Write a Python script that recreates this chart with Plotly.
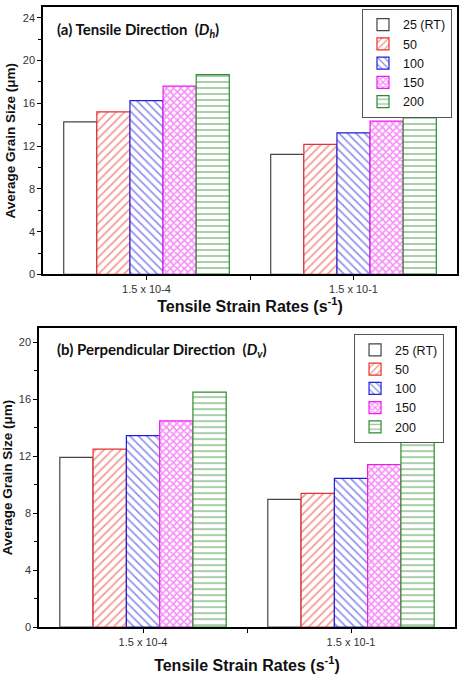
import plotly.graph_objects as go

categories = ["1.5 x 10-4", "1.5 x 10-1"]
temps = ["25 (RT)", "50", "100", "150", "200"]
tensile_dh = [
    [14.26, 11.23],
    [15.2, 12.16],
    [16.25, 13.24],
    [17.6, 14.33],
    [18.67, 15.32],
]
perp_dv = [
    [11.92, 8.97],
    [12.5, 9.39],
    [13.45, 10.45],
    [14.48, 11.41],
    [16.5, 13.08],
]

line_colors = ["#444444", "#e8312f", "#1f1fdc", "#ee1cee", "#2e8b2e"]
shapes_pat = ["", "/", "\\", "x", "-"]
pat_size = [6, 6, 6, 5, 6]
pat_sol = [0.2, 0.28, 0.28, 0.55, 0.28]

fig = go.Figure()
xpos = [0, 1]

for panel, (data, xa, ya, lg) in enumerate([
    (tensile_dh, "x", "y", "legend"),
    (perp_dv, "x2", "y2", "legend2"),
]):
    for i, t in enumerate(temps):
        pat = dict(shape=shapes_pat[i], fgcolor=line_colors[i], bgcolor="white",
                   size=pat_size[i], solidity=pat_sol[i], fillmode="overlay") if shapes_pat[i] else None
        fig.add_trace(go.Bar(
            x=xpos, y=data[i], name=t, xaxis=xa, yaxis=ya, legend=lg,
            marker=dict(color="white", line=dict(color=line_colors[i], width=1.2),
                        pattern=pat),
        ))

fig.update_layout(
    barmode="group", bargap=0.2, bargroupgap=0,
    width=465, height=677,
    margin=dict(l=39, r=8, t=5, b=48.5),
    plot_bgcolor="white", paper_bgcolor="white",
    font=dict(family="Arial, Liberation Sans", color="#333333", size=11),
)

axis_common = dict(showline=True, linecolor="black", linewidth=1.5, mirror=True, zeroline=False,
                   showgrid=False)
xcommon = dict(axis_common, range=[-0.5, 1.5], tickvals=xpos, ticktext=categories,
               ticks="outside", ticklen=4, tickcolor="black",
               minor=dict(tickvals=[0.5], ticks="outside", ticklen=4, tickcolor="black"),
               title_font=dict(family="Arial, Liberation Sans", size=16, color="#111111"),
               tickfont=dict(size=11, color="#333333"))
ycommon = dict(axis_common, ticks="outside", ticklen=4, tickcolor="black", dtick=4,
               minor=dict(dtick=2, ticks="outside", ticklen=3, tickcolor="black"),
               title_font=dict(family="Arial, Liberation Sans", size=13.5, color="#111111"),
               tickfont=dict(size=11, color="#333333"))

top_dom = [0.5686, 1.0]
bot_dom = [0.0, 0.482]

fig.update_layout(
    xaxis=dict(xcommon, domain=[0.0096, 1.0], anchor="y",
               title=dict(text="<b>Tensile Strain Rates (s<sup>-1</sup>)</b>", standoff=2)),
    yaxis=dict(ycommon, domain=top_dom, anchor="x", range=[0, 25], tick0=0,
               title=dict(text="<b>Average Grain Size (μm)</b>", standoff=4)),
    xaxis2=dict(xcommon, domain=[0.0, 0.9952], anchor="y2",
                title=dict(text="<b>Tensile Strain Rates (s<sup>-1</sup>)</b>", standoff=13)),
    yaxis2=dict(ycommon, domain=bot_dom, anchor="x2", range=[0, 21], tick0=0,
                title=dict(text="<b>Average Grain Size (μm)</b>", standoff=4)),
    xaxis3=dict(overlaying="x", side="top", anchor="y", range=[-0.5, 1.5], tickvals=[0, 0.5, 1],
                ticks="inside", ticklen=4, tickcolor="black", showticklabels=False,
                showgrid=False, zeroline=False, showline=False),
    yaxis3=dict(overlaying="y", side="right", anchor="x", range=[0, 25], dtick=2, tick0=0,
                ticks="inside", ticklen=4, tickcolor="black", showticklabels=False,
                showgrid=False, zeroline=False, showline=False),
    xaxis4=dict(overlaying="x2", side="top", anchor="y2", range=[-0.5, 1.5], tickvals=[0, 0.5, 1],
                ticks="inside", ticklen=4, tickcolor="black", showticklabels=False,
                showgrid=False, zeroline=False, showline=False),
    yaxis4=dict(overlaying="y2", side="right", anchor="x2", range=[0, 21], dtick=2, tick0=0,
                ticks="inside", ticklen=4, tickcolor="black", showticklabels=False,
                showgrid=False, zeroline=False, showline=False),
)

legend_common = dict(bgcolor="white", bordercolor="#555555", borderwidth=1,
                     font=dict(family="Arial, Liberation Sans", size=12.5, color="#111111"),
                     xanchor="right", yanchor="top", tracegroupgap=0, itemwidth=30)
fig.update_layout(
    legend=dict(legend_common, x=0.988, y=0.9968),
    legend2=dict(legend_common, x=0.969, y=0.4723),
)

fig.add_annotation(text="<b>(a) Tensile Direction  (<i>D<sub>h</sub></i>)</b>",
                   xref="paper", yref="paper", x=0.038, y=0.963, xanchor="left", yanchor="middle",
                   showarrow=False, font=dict(family="Lato, Open Sans", size=15, color="#111111"))
fig.add_annotation(text="<b>(b) Perpendicular Direction  (<i>D<sub>v</sub></i>)</b>",
                   xref="paper", yref="paper", x=0.038, y=0.447, xanchor="left", yanchor="middle",
                   showarrow=False, font=dict(family="Lato, Open Sans", size=15, color="#111111"))

fig.write_html("out.html")
